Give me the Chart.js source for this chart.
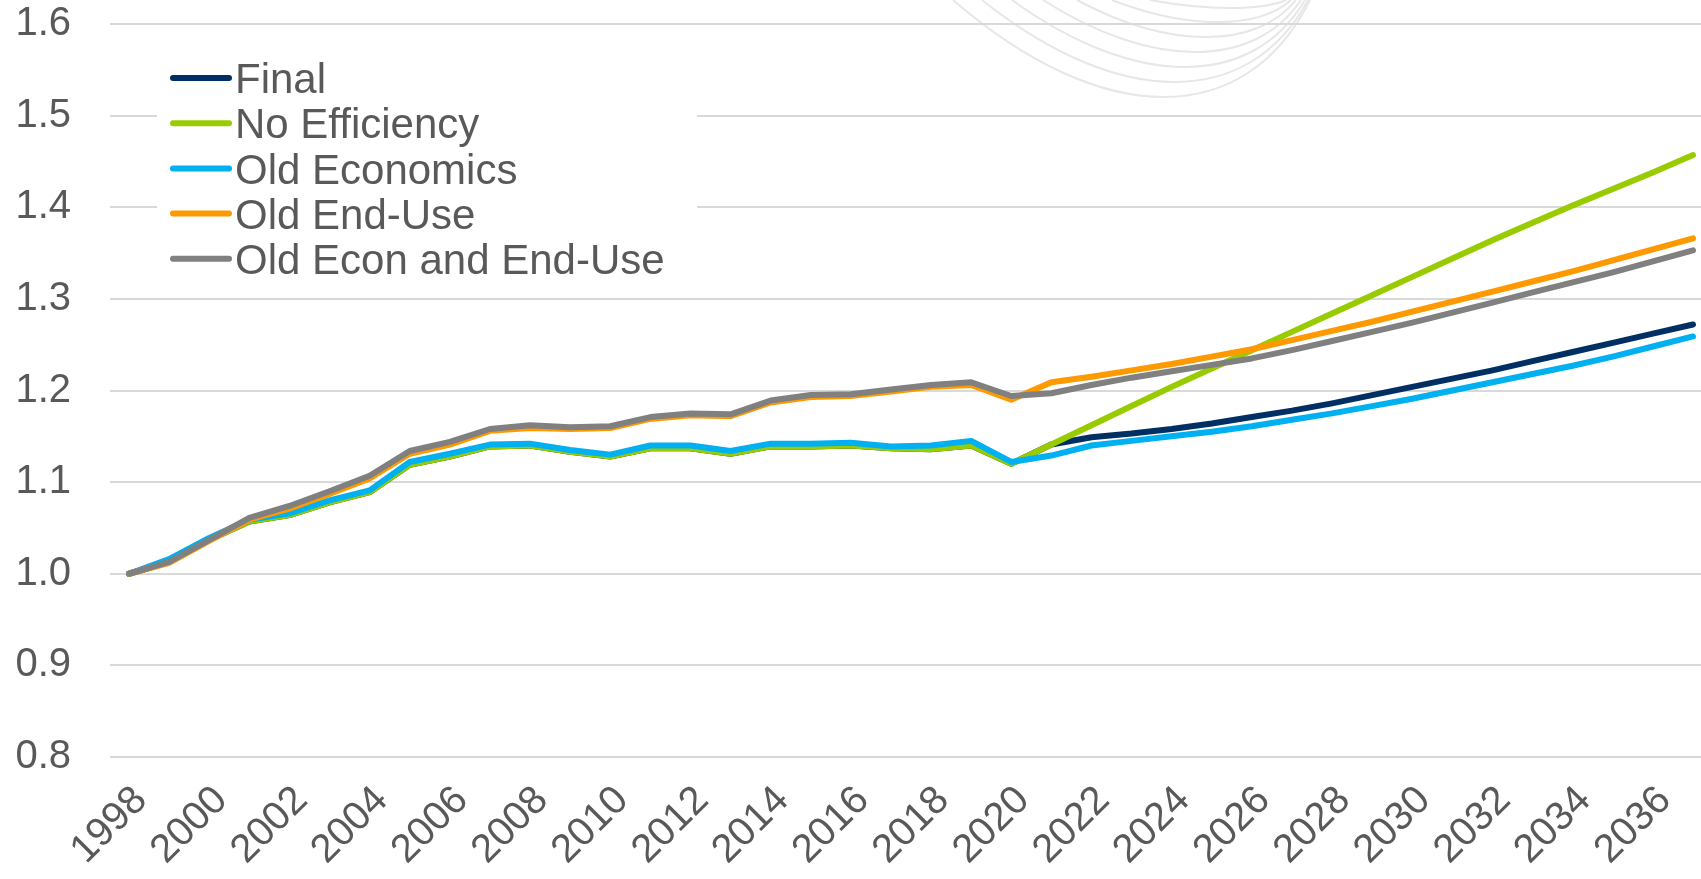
<!DOCTYPE html>
<html>
<head>
<meta charset="utf-8">
<title>Load index by scenario</title>
<script src="https://cdn.jsdelivr.net/npm/chart.js@4.4.1/dist/chart.umd.min.js"></script>
<style>
  html, body { margin: 0; padding: 0; background: #fff; overflow: hidden; }
  #wrap { width: 1701px; height: 879px; }
</style>
</head>
<body>
<div id="wrap"><canvas id="indexChart" width="1701" height="879"></canvas></div>
<script>
// Years 1998-2037, index relative to 1998 = 1.0
const years = [
  1998, 1999, 2000, 2001, 2002, 2003, 2004, 2005, 2006, 2007,
  2008, 2009, 2010, 2011, 2012, 2013, 2014, 2015, 2016, 2017,
  2018, 2019, 2020, 2021, 2022, 2023, 2024, 2025, 2026, 2027,
  2028, 2029, 2030, 2031, 2032, 2033, 2034, 2035, 2036, 2037
];
const yearTicks = [1998, 2000, 2002, 2004, 2006, 2008, 2010, 2012, 2014, 2016,
  2018, 2020, 2022, 2024, 2026, 2028, 2030, 2032, 2034, 2036];

const finalCase = [
  1.000, 1.013, 1.037, 1.057, 1.064, 1.078, 1.089, 1.119, 1.128, 1.139,
  1.140, 1.133, 1.128, 1.137, 1.137, 1.131, 1.139, 1.139, 1.140, 1.137,
  1.136, 1.140, 1.120, 1.141, 1.149, 1.153, 1.158, 1.164, 1.171, 1.178,
  1.186, 1.195, 1.204, 1.213, 1.222, 1.232, 1.242, 1.252, 1.262, 1.272
];
const noEfficiency = [
  1.000, 1.013, 1.037, 1.057, 1.064, 1.078, 1.089, 1.119, 1.128, 1.139,
  1.140, 1.133, 1.128, 1.137, 1.137, 1.131, 1.139, 1.139, 1.140, 1.137,
  1.136, 1.140, 1.120, 1.141, 1.162, 1.183, 1.204, 1.224, 1.244, 1.264,
  1.284, 1.304, 1.324, 1.344, 1.364, 1.383, 1.402, 1.420, 1.438, 1.457
];
const oldEconomics = [
  1.000, 1.016, 1.039, 1.059, 1.066, 1.080, 1.091, 1.122, 1.131, 1.141,
  1.142, 1.135, 1.130, 1.140, 1.140, 1.134, 1.142, 1.142, 1.143, 1.139,
  1.140, 1.145, 1.122, 1.129, 1.140, 1.145, 1.150, 1.155, 1.161, 1.168,
  1.175, 1.183, 1.191, 1.200, 1.209, 1.218, 1.227, 1.237, 1.248, 1.259
];
const oldEndUse = [
  1.000, 1.012, 1.036, 1.059, 1.071, 1.087, 1.104, 1.131, 1.141, 1.156,
  1.159, 1.158, 1.159, 1.169, 1.173, 1.172, 1.187, 1.193, 1.194, 1.199,
  1.204, 1.206, 1.190, 1.209, 1.215, 1.222, 1.229, 1.237, 1.245, 1.255,
  1.265, 1.275, 1.286, 1.297, 1.308, 1.319, 1.330, 1.342, 1.354, 1.366
];
const oldEconEndUse = [
  1.000, 1.013, 1.037, 1.061, 1.074, 1.090, 1.107, 1.134, 1.144, 1.158,
  1.162, 1.160, 1.161, 1.171, 1.175, 1.174, 1.189, 1.195, 1.196, 1.201,
  1.206, 1.209, 1.194, 1.197, 1.206, 1.214, 1.221, 1.228, 1.235, 1.244,
  1.254, 1.264, 1.274, 1.285, 1.296, 1.307, 1.318, 1.329, 1.341, 1.353
];

const seriesNames = ['Final', 'No Efficiency', 'Old Economics', 'Old End-Use', 'Old Econ and End-Use'];
const seriesColors = ['#003063', '#99CC00', '#00B0F0', '#FF9900', '#808080'];
const seriesValues = [finalCase, noEfficiency, oldEconomics, oldEndUse, oldEconEndUse];

const FONT = "'Liberation Sans', Arial, sans-serif";
const TEXT_COLOR = '#595959';
const TICK_SIZE = 40;
const LEGEND_SIZE = 42;

// faint swoosh logo behind the plot
const watermark = {
  id: 'watermark',
  beforeDraw(chart) {
    const ctx = chart.ctx;
    const arcs = [
      [953, 1310, 97], [982, 1308, 82], [1012, 1305, 67], [1043, 1301, 52],
      [1077, 1296, 37], [1112, 1291, 22], [1150, 1286, 8]
    ];
    ctx.save();
    ctx.strokeStyle = '#e7e7e7';
    ctx.lineWidth = 2;
    arcs.forEach(([xl, xr, depth]) => {
      const h = depth / 0.75;
      const w = xr - xl;
      ctx.beginPath();
      ctx.moveTo(xl, 0);
      ctx.bezierCurveTo(xl + w * 0.42, h, xr - w * 0.18, h, xr, 0);
      ctx.stroke();
    });
    ctx.restore();
  }
};

// legend drawn inside the plot area on a white box
const insideLegend = {
  id: 'insideLegend',
  beforeDatasetsDraw(chart, args, opts) {
    const ctx = chart.ctx;
    ctx.save();
    ctx.fillStyle = '#ffffff';
    ctx.fillRect(opts.boxLeft, opts.boxTop, opts.boxWidth, opts.boxHeight);
    ctx.font = LEGEND_SIZE + 'px ' + FONT;
    ctx.textBaseline = 'alphabetic';
    ctx.textAlign = 'left';
    chart.data.datasets.forEach((ds, i) => {
      const y = opts.top + i * opts.rowHeight;
      ctx.strokeStyle = ds.borderColor;
      ctx.lineWidth = 6;
      ctx.lineCap = 'round';
      ctx.beginPath();
      ctx.moveTo(opts.left, y);
      ctx.lineTo(opts.left + opts.lineLength, y);
      ctx.stroke();
      ctx.fillStyle = TEXT_COLOR;
      ctx.fillText(ds.label, opts.left + opts.lineLength + opts.gap, y + LEGEND_SIZE * 0.36);
    });
    ctx.restore();
  }
};

const datasets = seriesNames.map((name, i) => ({
  label: name,
  data: seriesValues[i],
  borderColor: seriesColors[i],
  backgroundColor: seriesColors[i],
  borderWidth: 6,
  borderJoinStyle: 'round',
  borderCapStyle: 'round',
  pointRadius: 0,
  tension: 0,
  // later series sit on top
  order: seriesNames.length - i
}));

new Chart(document.getElementById('indexChart'), {
  type: 'line',
  data: { labels: years, datasets: datasets },
  options: {
    responsive: false,
    animation: false,
    events: [],
    layout: { padding: { top: 24, right: 0, bottom: 0, left: 0 } },
    scales: {
      x: {
        type: 'linear',
        min: 1997.526,
        max: 2037.2,
        grid: { display: false },
        border: { display: false },
        afterBuildTicks: axis => { axis.ticks = yearTicks.map(v => ({ value: v })); },
        afterFit: axis => {
          axis.height = 122;
          axis.paddingLeft = 0;
          axis.paddingRight = 0;
        },
        ticks: {
          autoSkip: false,
          minRotation: 45,
          maxRotation: 45,
          padding: 12,
          labelOffset: 12,
          color: TEXT_COLOR,
          font: { family: FONT, size: TICK_SIZE },
          callback: v => String(v)
        }
      },
      y: {
        min: 0.8,
        max: 1.6,
        grid: { color: '#d9d9d9', lineWidth: 2, drawTicks: false },
        border: { display: false },
        afterFit: axis => {
          axis.width = 110;
          // keep the plot flush with the top padding
          axis.paddingTop = 0;
          axis.paddingBottom = 0;
        },
        ticks: {
          stepSize: 0.1,
          padding: 39,
          color: TEXT_COLOR,
          font: { family: FONT, size: TICK_SIZE },
          callback: v => v.toFixed(1)
        }
      }
    },
    plugins: {
      legend: { display: false },
      tooltip: { enabled: false },
      insideLegend: {
        boxLeft: 157, boxTop: 50, boxWidth: 540, boxHeight: 232,
        left: 173, top: 78, rowHeight: 45.2, lineLength: 56, gap: 6
      }
    }
  },
  plugins: [watermark, insideLegend]
});
</script>
</body>
</html>
